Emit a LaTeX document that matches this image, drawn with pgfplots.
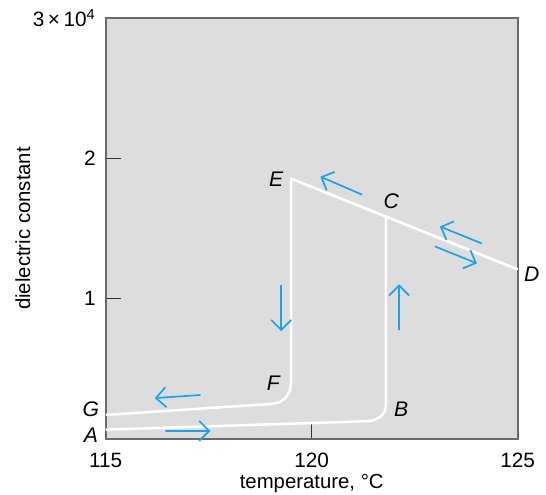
\documentclass[border=0pt]{standalone}
\usepackage{pgfplots}
\pgfplotsset{compat=1.18}
\usepackage{fontspec}
\setmainfont{Liberation Sans}
\usetikzlibrary{arrows.meta}
\definecolor{bgray}{HTML}{DDDDDD}
\definecolor{axgray}{HTML}{6A6A6A}
\definecolor{arrblue}{HTML}{1AA3E8}
\begin{document}
\begin{tikzpicture}
\begin{axis}[
  at={(0pt,0pt)}, anchor=south west,
  scale only axis, width=206.5pt, height=211pt,
  xmin=115, xmax=125, ymin=0, ymax=30000,
  xtick={115,120,125}, ytick={10000,20000,30000},
  yticklabels={1,2,{3\,×\,10\textsuperscript{4}}},
  scaled y ticks=false,
  tick pos=left, tick align=inside,
  major tick length=7.5pt,
  axis line style={axgray, line width=0.8pt},
  tick style={black!80, line width=0.6pt},
  axis background/.style={fill=bgray},
  /pgf/number format/assume math mode=true,
  /pgf/number format/1000 sep={},
  ticklabel style={font=\fontsize{10.4}{12}\selectfont},
  xticklabel style={yshift=-6pt, inner sep=1pt},
  yticklabel style={xshift=-1.5pt},
  xlabel={temperature, °C},
  ylabel={dielectric constant},
  label style={font=\fontsize{10.2}{12}\selectfont},
  xlabel style={yshift=-1pt, inner sep=1pt},
  ylabel style={yshift=-5.5pt},
  clip=false,
]
% upper path G-F-E-C-D
\addplot[white, line width=1.3pt, line join=round] coordinates {
 (115,1710) (119.05,2500) (119.22,2610) (119.37,2940) (119.47,3430) (119.5,4000)
 (119.5,18550) (125,12080)};
% lower path A-B-C
\addplot[white, line width=1.3pt, line join=round] coordinates {
 (115,660) (121.34,1260) (121.52,1340) (121.67,1580) (121.77,1940) (121.8,2360)
 (121.8,15840)};
% arrows
\pgfplotsset{barr/.style={draw=arrblue, color=arrblue, line width=0.85pt, -{Straight Barb[length=5pt,width=10pt,line width=0.85pt]}}}
\addplot[barr] coordinates {(116.45,570) (117.54,571)};
\addplot[barr] coordinates {(117.30,3130) (116.19,2910)};
\addplot[barr] coordinates {(119.26,10950) (119.26,7680)};
\addplot[barr] coordinates {(122.12,7750) (122.121,11020)};
\addplot[barr] coordinates {(121.22,17410) (120.21,18690)};
\addplot[barr] coordinates {(124.13,13930) (123.11,15140)};
\addplot[barr] coordinates {(122.99,13720) (124.01,12510)};
% labels
\begin{scope}[every node/.style={font=\fontsize{10.6}{12}\selectfont\itshape}]
\node at (axis cs:114.64,280) {A};
\node at (axis cs:114.64,2130) {G};
\node at (axis cs:119.07,3980) {F};
\node at (axis cs:122.17,2130) {B};
\node at (axis cs:119.14,18480) {E};
\node at (axis cs:121.93,16920) {C};
\node at (axis cs:125.34,11730) {D};
\end{scope}
\end{axis}
\path (-53pt,-26.5pt) rectangle (218pt,220pt);
\end{tikzpicture}
\end{document}
